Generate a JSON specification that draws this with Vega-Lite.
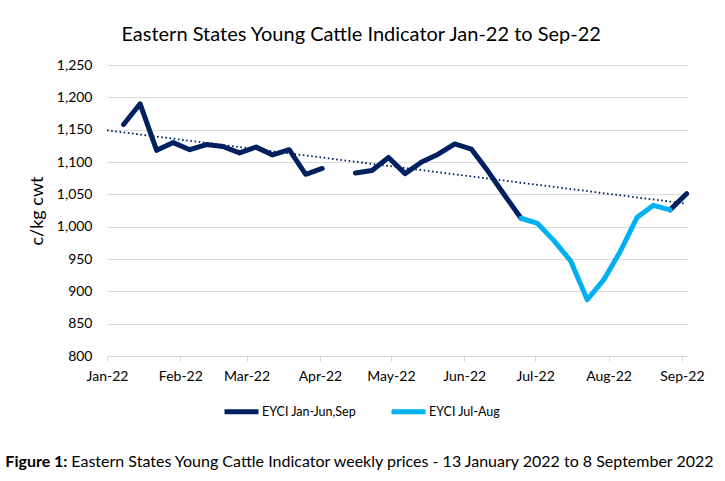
{
  "$schema": "https://vega.github.io/schema/vega-lite/v6.json",
  "background": "white",
  "padding": {"left": 5, "top": 25, "right": 5, "bottom": 5},
  "config": {
    "font": "Lato",
    "view": {"stroke": null},
    "title": {"color": "#000000", "fontWeight": "normal", "font": "Lato"}
  },
  "title": {
    "text": "Eastern States Young Cattle Indicator weekly prices - 13 January 2022 to 8 September 2022",
    "orient": "bottom",
    "anchor": "start",
    "frame": "bounds",
    "fontSize": 16,
    "fontWeight": "normal",
    "offset": 0,
    "dx": 66,
    "dy": -16
  },
  "vconcat": [
    {
      "title": {
        "text": "Figure 1:",
        "orient": "bottom",
        "anchor": "start",
        "frame": "bounds",
        "fontSize": 16,
        "fontWeight": "bold",
        "offset": 71,
        "dx": -23
      },
      "vconcat": [
        {
          "width": 581,
          "height": 291,
          "title": {
            "text": "Eastern States Young Cattle Indicator Jan-22 to Sep-22",
            "fontSize": 20,
            "fontWeight": "normal",
            "anchor": "middle",
            "frame": "bounds",
            "offset": 13,
            "dx": -5
          },
          "layer": [
            {
              "data": {"values": [
                {"date": "2022-01-01", "value": 1149},
                {"date": "2022-09-02", "value": 1036}
              ]},
              "mark": {"type": "line", "color": "#002060", "strokeDash": [1.6, 2.6], "strokeWidth": 1.8},
              "encoding": {
                "x": {"field": "date", "type": "temporal"},
                "y": {"field": "value", "type": "quantitative"}
              }
            },
            {
              "data": {"values": [
                {"date": "2022-01-08", "EYCI Jan-Jun,Sep": 1158, "EYCI Jul-Aug": null},
                {"date": "2022-01-15", "EYCI Jan-Jun,Sep": 1190, "EYCI Jul-Aug": null},
                {"date": "2022-01-22", "EYCI Jan-Jun,Sep": 1118, "EYCI Jul-Aug": null},
                {"date": "2022-01-29", "EYCI Jan-Jun,Sep": 1130, "EYCI Jul-Aug": null},
                {"date": "2022-02-05", "EYCI Jan-Jun,Sep": 1119, "EYCI Jul-Aug": null},
                {"date": "2022-02-12", "EYCI Jan-Jun,Sep": 1127, "EYCI Jul-Aug": null},
                {"date": "2022-02-19", "EYCI Jan-Jun,Sep": 1124, "EYCI Jul-Aug": null},
                {"date": "2022-02-26", "EYCI Jan-Jun,Sep": 1114, "EYCI Jul-Aug": null},
                {"date": "2022-03-05", "EYCI Jan-Jun,Sep": 1123, "EYCI Jul-Aug": null},
                {"date": "2022-03-12", "EYCI Jan-Jun,Sep": 1111, "EYCI Jul-Aug": null},
                {"date": "2022-03-19", "EYCI Jan-Jun,Sep": 1119, "EYCI Jul-Aug": null},
                {"date": "2022-03-26", "EYCI Jan-Jun,Sep": 1081, "EYCI Jul-Aug": null},
                {"date": "2022-04-02", "EYCI Jan-Jun,Sep": 1090, "EYCI Jul-Aug": null},
                {"date": "2022-04-09", "EYCI Jan-Jun,Sep": null, "EYCI Jul-Aug": null},
                {"date": "2022-04-16", "EYCI Jan-Jun,Sep": 1083, "EYCI Jul-Aug": null},
                {"date": "2022-04-23", "EYCI Jan-Jun,Sep": 1087, "EYCI Jul-Aug": null},
                {"date": "2022-04-30", "EYCI Jan-Jun,Sep": 1107, "EYCI Jul-Aug": null},
                {"date": "2022-05-07", "EYCI Jan-Jun,Sep": 1082, "EYCI Jul-Aug": null},
                {"date": "2022-05-14", "EYCI Jan-Jun,Sep": 1100, "EYCI Jul-Aug": null},
                {"date": "2022-05-21", "EYCI Jan-Jun,Sep": 1112, "EYCI Jul-Aug": null},
                {"date": "2022-05-28", "EYCI Jan-Jun,Sep": 1128, "EYCI Jul-Aug": null},
                {"date": "2022-06-04", "EYCI Jan-Jun,Sep": 1120, "EYCI Jul-Aug": null},
                {"date": "2022-06-11", "EYCI Jan-Jun,Sep": 1086, "EYCI Jul-Aug": null},
                {"date": "2022-06-18", "EYCI Jan-Jun,Sep": 1049, "EYCI Jul-Aug": null},
                {"date": "2022-06-25", "EYCI Jan-Jun,Sep": 1013, "EYCI Jul-Aug": 1013},
                {"date": "2022-07-02", "EYCI Jan-Jun,Sep": null, "EYCI Jul-Aug": 1005},
                {"date": "2022-07-09", "EYCI Jan-Jun,Sep": null, "EYCI Jul-Aug": 978},
                {"date": "2022-07-16", "EYCI Jan-Jun,Sep": null, "EYCI Jul-Aug": 947},
                {"date": "2022-07-23", "EYCI Jan-Jun,Sep": null, "EYCI Jul-Aug": 887},
                {"date": "2022-07-30", "EYCI Jan-Jun,Sep": null, "EYCI Jul-Aug": 918},
                {"date": "2022-08-06", "EYCI Jan-Jun,Sep": null, "EYCI Jul-Aug": 962},
                {"date": "2022-08-13", "EYCI Jan-Jun,Sep": null, "EYCI Jul-Aug": 1014},
                {"date": "2022-08-20", "EYCI Jan-Jun,Sep": null, "EYCI Jul-Aug": 1033},
                {"date": "2022-08-27", "EYCI Jan-Jun,Sep": 1026, "EYCI Jul-Aug": 1026},
                {"date": "2022-09-03", "EYCI Jan-Jun,Sep": 1051, "EYCI Jul-Aug": null}
              ]},
              "transform": [
                {"fold": ["EYCI Jan-Jun,Sep", "EYCI Jul-Aug"], "as": ["series", "value"]}
              ],
              "mark": {"type": "line", "strokeWidth": 5, "strokeCap": "round", "strokeJoin": "round", "invalid": "break-paths-show-domains"},
              "encoding": {
                "x": {"field": "date", "type": "temporal"},
                "y": {"field": "value", "type": "quantitative"},
                "color": {
                  "field": "series",
                  "type": "nominal",
                  "scale": {"domain": ["EYCI Jan-Jun,Sep", "EYCI Jul-Aug"], "range": ["#002060", "#00B0F0"]},
                  "legend": {
                    "title": null,
                    "orient": "none",
                    "direction": "horizontal",
                    "legendX": 115,
                    "legendY": 327,
                    "symbolType": "stroke",
                    "symbolStrokeWidth": 5,
                    "symbolSize": 1156,
                    "labelFontSize": 12.5,
                    "labelColor": "#000000",
                    "labelOffset": 1,
                    "columnPadding": 24
                  }
                }
              }
            }
          ],
          "encoding": {
            "x": {
              "field": "date",
              "type": "temporal",
              "scale": {"type": "utc", "domain": [{"year": 2022, "month": 1, "date": 1, "utc": true}, {"year": 2022, "month": 9, "date": 3, "hours": 14, "utc": true}]},
              "axis": {
                "title": null,
                "format": "%b-%y",
                "tickCount": "month",
                "grid": false,
                "domainColor": "#d9d9d9",
                "tickColor": "#d9d9d9",
                "tickSize": 5,
                "labelFontSize": 14,
                "labelColor": "#000000",
                "labelPadding": 8,
                "labelFlush": false
              }
            },
            "y": {
              "field": "value",
              "type": "quantitative",
              "scale": {"domain": [800, 1250], "nice": false, "zero": false},
              "axis": {
                "title": "c/kg cwt",
                "values": [800, 850, 900, 950, 1000, 1050, 1100, 1150, 1200, 1250],
                "format": ",.0f",
                "grid": true,
                "gridColor": "#d9d9d9",
                "domain": false,
                "ticks": false,
                "labelPadding": 15,
                "labelFontSize": 14,
                "labelColor": "#000000",
                "titleFontSize": 18,
                "titleFontWeight": "normal",
                "titleColor": "#000000",
                "titlePadding": 10
              }
            }
          }
        }
      ]
    }
  ]
}
